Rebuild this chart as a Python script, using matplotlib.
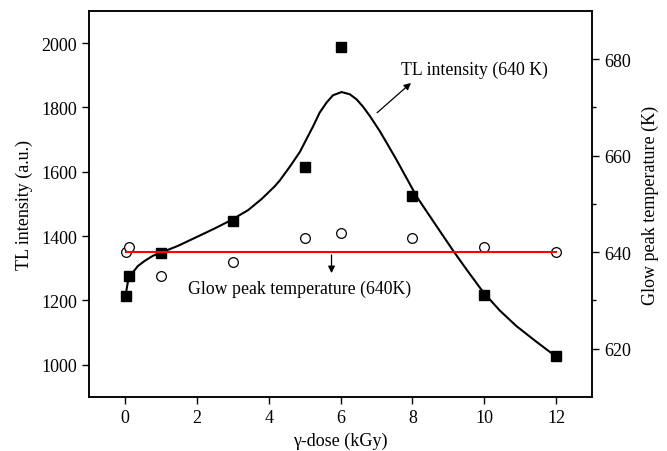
import numpy as np
import matplotlib
matplotlib.use("Agg")
import matplotlib.pyplot as plt

plt.rcParams["font.family"] = ["Liberation Serif", "DejaVu Serif"]

# TL intensity (squares, left axis)
dose_tl = [0.04, 0.1, 1, 3, 5, 6, 8, 10, 12]
tl_int = [1214, 1276, 1347, 1448, 1615, 1987, 1524, 1216, 1027]

# smoothed TL curve
curve_x = [0.04, 0.08, 0.22, 0.36, 0.55, 0.78, 1.01, 1.48, 2.03, 2.50, 2.96,
           3.43, 3.80, 4.17, 4.31, 4.59, 4.87, 5.05, 5.24, 5.42, 5.61, 5.79,
           6.03, 6.26, 6.45, 6.63, 6.82, 7.09, 7.28, 7.56, 7.84, 8.12, 8.39,
           8.77, 9.14, 9.51, 9.97, 10.44, 10.9, 11.46, 11.97]
curve_y = [1230, 1256, 1287, 1307, 1323, 1339, 1349, 1370, 1399, 1424, 1450,
           1481, 1515, 1555, 1573, 1616, 1662, 1701, 1742, 1784, 1815, 1838,
           1848, 1841, 1825, 1802, 1773, 1727, 1691, 1637, 1580, 1523, 1478,
           1415, 1354, 1296, 1226, 1168, 1120, 1071, 1028]

# glow peak temperature (open circles, right axis)
dose_t = [0.04, 0.1, 1, 3, 5, 6, 8, 10, 12]
peak_t = [640, 641, 635, 638, 643, 644, 643, 641, 640]
t_level = 640

fig = plt.figure(figsize=(6.67, 4.52), dpi=100)
ax = fig.add_axes([0.1334, 0.1195, 0.7542, 0.854])
ax2 = ax.twinx()

ax.plot(curve_x, curve_y, "-", color="black", lw=1.5, solid_joinstyle="round")
ax.plot(dose_tl, tl_int, "s", color="black", ms=7)

ax2.plot([dose_t[0], dose_t[-1]], [t_level, t_level], "-", color="#ff0000", lw=1.5)
ax2.plot(dose_t, peak_t, "o", mfc="white", mec="black", mew=0.9, ms=7,
         linestyle="none", zorder=1)
ax2.set_zorder(ax.get_zorder() + 1)
ax2.patch.set_visible(False)

ax.set_xlim(-1, 13)
ax.set_ylim(900, 2100)
ax2.set_ylim(610, 690)
ax.set_xticks([0, 2, 4, 6, 8, 10, 12])
ax.set_yticks([1000, 1200, 1400, 1600, 1800, 2000])
ax2.set_yticks([620, 640, 660, 680])
ax2.set_yticks([630, 650, 670], minor=True)

ax.tick_params(axis="both", direction="out", length=5, width=1, labelsize=13)
ax.tick_params(top=False)
ax2.tick_params(axis="y", which="major", direction="out", length=5, width=1,
                labelsize=13)
ax2.tick_params(axis="y", which="minor", direction="out", length=3, width=1)
for a in (ax, ax2):
    for s in a.spines.values():
        s.set_linewidth(1.1)

ax.set_xlabel("γ-dose (kGy)", fontsize=13)
ax.set_ylabel("TL intensity (a.u.)", fontsize=13, labelpad=6)
ax2.set_ylabel("Glow peak temperature (K)", fontsize=13, labelpad=8)

ax.annotate("", xy=(8.02, 1882), xytext=(6.96, 1778),
            arrowprops=dict(arrowstyle="-|>", color="black", lw=0.9,
                            mutation_scale=10))
ax.text(7.67, 1918, "TL intensity (640 K)", fontsize=12.8, va="center", ha="left")

ax2.annotate("", xy=(5.75, 635.1), xytext=(5.75, 640),
             arrowprops=dict(arrowstyle="-|>", color="black", lw=0.9,
                             mutation_scale=10))
ax.text(1.75, 1237, "Glow peak temperature (640K)", fontsize=12.8,
        va="center", ha="left")

plt.savefig("out.png", dpi=100)
